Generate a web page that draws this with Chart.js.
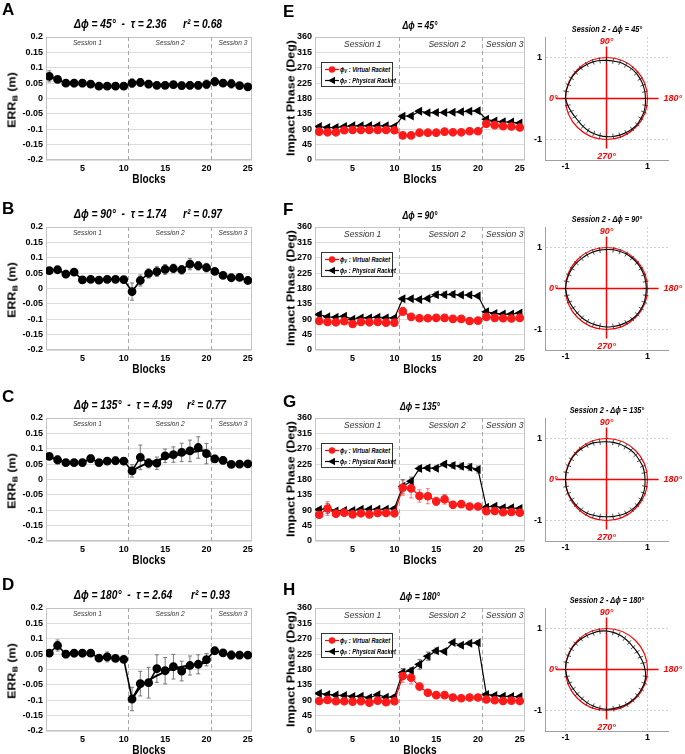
<!DOCTYPE html>
<html><head><meta charset="utf-8">
<script src="https://cdn.jsdelivr.net/npm/chart.js@4.4.1/dist/chart.umd.min.js"></script>
<style>
html,body{margin:0;padding:0;background:#fff;}
body{width:685px;height:754px;position:relative;overflow:hidden;font-family:"Liberation Sans",Arial,sans-serif;}
canvas{position:absolute;}
.t{position:absolute;white-space:pre;color:#000;line-height:1;}
.bi{font-weight:bold;font-style:italic;}
.b{font-weight:bold;}
.rot{transform:translate(-50%,-50%) rotate(-90deg) scaleY(0.9);}
.leg{position:absolute;border:1px solid #333;background:#fff;box-sizing:border-box;}
.leg svg{position:absolute;}
.leg .lt{position:absolute;white-space:pre;font-weight:bold;font-style:italic;font-size:7px;line-height:1;transform-origin:0 50%;transform:scaleX(0.82);}
sub{font-size:70%;vertical-align:-0.25em;line-height:0;}
</style></head><body>
<script>
// ---------------- DATA ----------------
const blocks = [1,2,3,4,5,6,7,8,9,10,11,12,13,14,15,16,17,18,19,20,21,22,23,24,25];
const fitBlocks = [11,12,13,14,15,16,17,18,19,20];
const xTickValues = [5,10,15,20,25];
const sessionBounds = [10.5,20.5];
const sessionNames = ['Session 1','Session 2','Session 3'];
const errYTicks = [-0.2,-0.15,-0.1,-0.05,0,0.05,0.1,0.15,0.2];
const errYLabels = ['-0.2','-0.15','-0.1','-0.05','0','0.05','0.1','0.15','0.2'];
const phaseYTicks = [0,45,90,135,180,225,270,315,360];
const polarTicks = [-1,1];

// Panel A (delta phi = 45)
const errA   = [0.072,0.062,0.05,0.05,0.05,0.047,0.04,0.04,0.04,0.04,0.05,0.052,0.047,0.043,0.043,0.045,0.042,0.043,0.043,0.046,0.055,0.05,0.048,0.042,0.038];
const errAsd = [0.018,0.01,0.01,0.012,0.012,0.008,0.008,0.008,0.01,0.008,0.014,0.012,0.012,0.01,0.01,0.01,0.012,0.012,0.012,0.014,0.014,0.01,0.014,0.01,0.008];
// Panel B (90)
const errB   = [0.058,0.061,0.047,0.053,0.028,0.03,0.027,0.03,0.03,0.029,-0.01,0.026,0.049,0.055,0.062,0.065,0.061,0.079,0.074,0.068,0.056,0.043,0.035,0.036,0.026];
const errBsd = [0.01,0.01,0.012,0.01,0.008,0.006,0.006,0.006,0.006,0.006,0.028,0.018,0.015,0.016,0.016,0.014,0.014,0.018,0.014,0.014,0.006,0.006,0.006,0.006,0.006];
// Panel C (135)
const errC   = [0.075,0.064,0.055,0.055,0.055,0.068,0.055,0.06,0.061,0.06,0.028,0.072,0.053,0.053,0.077,0.081,0.088,0.093,0.104,0.084,0.067,0.062,0.049,0.05,0.051];
const errCsd = [0.006,0.014,0.008,0.01,0.01,0.012,0.01,0.01,0.012,0.01,0.02,0.04,0.015,0.02,0.022,0.025,0.03,0.035,0.035,0.033,0.012,0.012,0.01,0.01,0.01];
const fitC   = [0.028,0.043,0.054,0.062,0.07,0.077,0.083,0.088,0.092,0.095];
// Panel D (180)
const errD   = [0.053,0.078,0.05,0.053,0.053,0.053,0.037,0.041,0.036,0.033,-0.096,-0.046,-0.043,0.003,-0.004,0.009,-0.005,0.013,0.017,0.032,0.061,0.054,0.047,0.047,0.047];
const errDsd = [0.008,0.018,0.012,0.012,0.012,0.01,0.008,0.016,0.008,0.008,0.038,0.04,0.05,0.045,0.043,0.04,0.032,0.031,0.031,0.02,0.01,0.008,0.014,0.012,0.008];
const fitD   = [-0.096,-0.058,-0.036,-0.02,-0.008,0.002,0.009,0.014,0.018,0.022];

// Panel E (45) impact phase
const phEv   = [83,81,81,87,88,88,88,88,88,87,72,72,80,80,80,83,81,81,84,84,106,102,99,98,95];
const phEvsd = [4,4,4,4,4,4,4,4,4,4,5,5,4,4,4,4,4,4,4,4,5,4,4,4,4];
const phEp   = [98,95,95,98,100,100,100,100,100,98,128,129,143,138,139,139,140,141,143,144,119,114,112,111,108];
const phEpsd = [4,4,4,4,4,4,4,4,4,4,5,5,5,4,4,4,4,4,4,4,5,4,4,4,4];
// Panel F (90)
const phFv   = [85,82,81,84,76,82,81,82,80,80,113,97,93,93,94,94,91,91,85,86,97,94,93,92,94];
const phFvsd = [4,4,4,4,4,4,4,4,4,4,12,6,5,5,5,5,5,5,4,4,4,4,4,4,4];
const phFp   = [104,97,96,99,90,94,94,96,94,94,150,150,148,151,162,162,163,161,161,158,112,107,105,105,108];
const phFpsd = [5,4,4,4,4,4,4,4,4,4,6,5,5,6,8,8,8,6,6,5,5,4,4,4,4];
// Panel G (135)
const phGv   = [77,95,80,83,78,81,78,82,82,81,156,154,132,131,116,122,106,108,101,101,87,88,84,85,83];
const phGvsd = [5,20,4,4,4,4,4,4,4,4,22,28,18,22,12,14,10,6,5,5,4,4,4,4,4];
const phGp   = [92,95,88,89,89,93,93,93,93,95,160,175,212,214,213,225,221,219,216,209,99,102,97,97,95];
const phGpsd = [5,15,5,5,5,5,5,5,5,5,20,12,8,7,7,6,8,9,10,10,5,5,5,5,5];
// Panel H (180)
const phHv   = [88,91,87,87,86,87,83,89,84,87,161,156,130,112,105,105,98,96,98,98,92,90,88,89,88];
const phHvsd = [4,4,4,4,4,4,4,4,4,4,18,18,10,6,5,5,4,4,4,4,4,4,4,4,4];
const phHp   = [110,107,105,104,101,102,97,106,99,100,171,177,195,219,235,233,259,251,257,258,107,104,102,101,100];
const phHpsd = [5,5,5,5,5,5,5,5,5,5,12,8,14,12,8,6,6,6,6,6,5,5,5,5,5];

// Polar panels: radius of physical-racket phase curve at each angle (0 left, 90 top, 180 right, 270 bottom)
const polarAngles = [0,10,20,30,40,50,60,70,80,90,100,110,120,130,140,150,160,170,180,190,200,210,220,230,240,250,260,270,280,290,300,310,320,330,340,350];
const polE = [1.0,1.0,0.99,0.99,0.98,0.97,0.96,0.95,0.94,0.93,0.93,0.94,0.94,0.95,0.95,0.95,0.95,0.95,0.95,0.96,0.97,0.97,0.98,0.97,0.96,0.95,0.94,0.93,0.92,0.91,0.9,0.89,0.88,0.89,0.92,0.96];
const polF = [1.0,0.99,0.98,0.97,0.96,0.95,0.95,0.95,0.95,0.95,0.96,0.96,0.97,0.97,0.97,0.97,0.97,0.97,0.97,0.97,0.98,0.98,0.98,0.97,0.96,0.95,0.94,0.94,0.93,0.93,0.93,0.93,0.93,0.94,0.96,0.98];
const polG = [1.0,1.0,0.99,0.99,0.98,0.97,0.96,0.95,0.93,0.92,0.92,0.92,0.92,0.93,0.93,0.93,0.94,0.94,0.94,0.95,0.96,0.97,0.97,0.96,0.95,0.93,0.92,0.91,0.92,0.93,0.95,0.96,0.97,0.98,0.99,1.0];
const polH = [1.0,1.0,0.99,0.99,0.98,0.97,0.96,0.95,0.95,0.94,0.92,0.9,0.88,0.86,0.85,0.86,0.88,0.91,0.94,0.97,0.98,0.98,0.98,0.98,0.98,0.97,0.97,0.97,0.96,0.95,0.94,0.93,0.93,0.94,0.96,0.98];
const polarErr = 0.07;

// ---------------- LAYOUT / STYLE ----------------
const rowTops = [37,227,418,608];
const REG = '"Liberation Sans",Arial,sans-serif';
const tickFont = {family: REG, size: 9, weight: 'bold'};

function makeCanvas(left, top, w, h){
  const c = document.createElement('canvas');
  c.width = w; c.height = h;
  c.style.left = left+'px'; c.style.top = top+'px';
  c.style.width = w+'px'; c.style.height = h+'px';
  document.body.appendChild(c);
  return c;
}
// anchor: 'c' centre, 'l' left-middle; sx: horizontal squeeze
function txt(html, x, y, cls, size, anchor, sx){
  const d = document.createElement('div');
  d.className = 't ' + cls;
  d.innerHTML = html;
  d.style.left = x+'px'; d.style.top = y+'px'; d.style.fontSize = size+'px';
  if (anchor === 'c') { d.style.transform = 'translate(-50%,-50%) scaleX(' + sx + ')'; }
  else if (anchor === 'l') { d.style.transformOrigin = '0 50%'; d.style.transform = 'translate(0,-50%) scaleX(' + sx + ')'; }
  document.body.appendChild(d);
  return d;
}

// ---------------- PLUGINS ----------------
const frame = {
  id:'frame',
  beforeDatasetsDraw(chart, args, opts){
    if (!opts.color) return;
    const {ctx, chartArea:a} = chart;
    ctx.save(); ctx.strokeStyle = opts.color; ctx.lineWidth = 1;
    ctx.strokeRect(Math.round(a.left)+0.5, Math.round(a.top)+0.5, Math.round(a.width)-1, Math.round(a.height)-1);
    ctx.restore();
  }
};
const sessions = {
  id:'sessions',
  beforeDatasetsDraw(chart, args, opts){
    if (!opts.labelPos) return;
    const {ctx, chartArea:a, scales:{x}} = chart;
    ctx.save();
    ctx.strokeStyle = '#a8a8a8'; ctx.lineWidth = 1; ctx.setLineDash([4,3]);
    sessionBounds.forEach(b => {
      const px = Math.round(x.getPixelForValue(b)) + 0.5;
      ctx.beginPath(); ctx.moveTo(px, a.top); ctx.lineTo(px, a.bottom); ctx.stroke();
    });
    ctx.setLineDash([]);
    ctx.fillStyle = '#333'; ctx.font = opts.font; ctx.textAlign = 'center'; ctx.textBaseline = 'middle';
    opts.labelPos.forEach((p,i) => ctx.fillText(sessionNames[i], x.getPixelForValue(p), a.top + opts.dy));
    ctx.restore();
  }
};
const errorBars = {
  id:'errorBars',
  beforeDatasetsDraw(chart){
    const {ctx, scales:{x,y}} = chart;
    chart.data.datasets.forEach(ds => {
      if (!ds.errors) return;
      ctx.save(); ctx.strokeStyle = ds.errorColor; ctx.lineWidth = 1;
      ds.data.forEach((p,j) => {
        const e = ds.errors[j]; if (!e) return;
        const px = x.getPixelForValue(p.x);
        const y1 = y.getPixelForValue(p.y + e), y2 = y.getPixelForValue(p.y - e);
        ctx.beginPath();
        ctx.moveTo(px, y1); ctx.lineTo(px, y2);
        ctx.moveTo(px-2, y1); ctx.lineTo(px+2, y1);
        ctx.moveTo(px-2, y2); ctx.lineTo(px+2, y2);
        ctx.stroke();
      });
      ctx.restore();
    });
  }
};
const polarDecor = {
  id:'polarDecor',
  beforeDatasetsDraw(chart, args, opts){
    if (!opts.on) return;
    const {ctx, scales:{x,y}} = chart;
    const cx = x.getPixelForValue(0), cy = y.getPixelForValue(0);
    const rx = x.getPixelForValue(1) - cx, ry = cy - y.getPixelForValue(1);
    ctx.save();
    ctx.strokeStyle = '#ff0000'; ctx.lineWidth = 1.2;
    ctx.beginPath(); ctx.ellipse(cx, cy, rx, ry, 0, 0, Math.PI*2); ctx.stroke();
    ctx.lineWidth = 1.5;
    ctx.beginPath();
    ctx.moveTo(x.getPixelForValue(-1.24), cy); ctx.lineTo(x.getPixelForValue(1.27), cy);
    ctx.moveTo(cx, y.getPixelForValue(1.27)); ctx.lineTo(cx, y.getPixelForValue(-1.22));
    ctx.stroke();
    ctx.restore();
  },
  afterDatasetsDraw(chart, args, opts){
    if (!opts.on) return;
    const {ctx, scales:{x,y}} = chart;
    chart.data.datasets.forEach(ds => {
      if (!ds.radii) return;
      ctx.save(); ctx.strokeStyle = '#222'; ctx.lineWidth = 0.8;
      ds.angles.forEach((a,i) => {
        const t = a*Math.PI/180, r = ds.radii[i];
        const x1 = -(r-polarErr)*Math.cos(t), y1 = (r-polarErr)*Math.sin(t);
        const x2 = -(r+polarErr)*Math.cos(t), y2 = (r+polarErr)*Math.sin(t);
        ctx.beginPath();
        ctx.moveTo(x.getPixelForValue(x1), y.getPixelForValue(y1));
        ctx.lineTo(x.getPixelForValue(x2), y.getPixelForValue(y2));
        ctx.stroke();
      });
      ctx.restore();
    });
  },
  afterDraw(chart, args, opts){
    if (!opts.on) return;
    const {ctx, scales:{x,y}} = chart;
    const cx = x.getPixelForValue(0), cy = y.getPixelForValue(0);
    ctx.save();
    ctx.fillStyle = '#ff0000';
    ctx.font = 'italic bold 9px ' + REG;
    ctx.textBaseline = 'middle';
    ctx.textAlign = 'center';
    ctx.fillText('90°', cx, y.getPixelForValue(1.27) - 5);
    ctx.fillText('270°', cx, y.getPixelForValue(-1.22) + 8);
    ctx.textAlign = 'right';
    ctx.fillText('0°', x.getPixelForValue(-1.24) + 2, cy);
    ctx.textAlign = 'left';
    ctx.fillText('180°', x.getPixelForValue(1.27) + 5, cy);
    ctx.restore();
  }
};
const allPlugins = [frame, sessions, errorBars, polarDecor];

function fixedTicks(values){ return s => { s.ticks = values.map(v => ({value:v})); }; }

// ---------------- CHART BUILDERS ----------------
function errChart(rowTop, vals, sds, fit){
  const canvas = makeCanvas(0, rowTop-37, 260, 190);
  const datasets = [];
  if (fit) datasets.push({data: fitBlocks.map((b,i)=>({x:b,y:fit[i]})), borderColor:'#000', borderWidth:2, pointRadius:0, tension:0.4, fill:false});
  datasets.push({data: blocks.map((b,i)=>({x:b,y:vals[i]})), errors:sds, errorColor:'#777',
    borderColor:'#000', borderWidth:1.6, pointRadius:3.6, pointBackgroundColor:'#000', pointBorderColor:'#000', tension:0, fill:false});
  new Chart(canvas, {
    type:'line', data:{datasets}, plugins: allPlugins,
    options:{
      responsive:false, animation:false, events:[],
      layout:{padding:{top:37,right:8,left:0,bottom:0}},
      plugins:{legend:{display:false}, tooltip:{enabled:false},
        frame:{color:'#c4c4c4'},
        sessions:{labelPos:[5.6,15.6,23.2], dy:6, font:'italic 6.6px ' + REG},
        polarDecor:{on:false}},
      scales:{
        x:{type:'linear', min:0.6, max:25.5, afterFit:s=>{s.height=30;}, afterBuildTicks:fixedTicks(xTickValues),
           grid:{display:false, drawTicks:false}, border:{display:false},
           ticks:{font:tickFont, color:'#000', padding:3, autoSkip:false, maxRotation:0, callback:v=>String(v)}},
        y:{type:'linear', min:-0.2, max:0.2, afterFit:s=>{s.width=46;}, afterBuildTicks:fixedTicks(errYTicks),
           grid:{color:'#dcdcdc', drawTicks:false}, border:{display:false},
           ticks:{font:tickFont, color:'#000', padding:3, autoSkip:false, callback:(v,i)=>errYLabels[i]}}
      }
    }
  });
}

function phaseChart(rowTop, v, vsd, p, psd){
  const canvas = makeCanvas(260, rowTop-37, 270, 190);
  const datasets = [
    {data: blocks.map((b,i)=>({x:b,y:v[i]})), errors:vsd, errorColor:'rgba(255,70,70,0.75)',
     borderColor:'#ff0000', borderWidth:1.2, pointRadius:3.7, pointBackgroundColor:'#ff1a1a', pointBorderColor:'#ff1a1a', tension:0, fill:false},
    {data: blocks.map((b,i)=>({x:b,y:p[i]})), errors:psd, errorColor:'#777',
     borderColor:'#000', borderWidth:1.2, pointRadius:4, pointStyle:'triangle', pointRotation:-90, pointBackgroundColor:'#000', pointBorderColor:'#000', tension:0, fill:false}
  ];
  new Chart(canvas, {
    type:'line', data:{datasets}, plugins: allPlugins,
    options:{
      responsive:false, animation:false, events:[],
      layout:{padding:{top:37,right:5,left:0,bottom:0}},
      plugins:{legend:{display:false}, tooltip:{enabled:false},
        frame:{color:'#c4c4c4'},
        sessions:{labelPos:[6.2,16.3,23.2], dy:8, font:'italic 8.5px ' + REG},
        polarDecor:{on:false}},
      scales:{
        x:{type:'linear', min:0.5, max:25.6, afterFit:s=>{s.height=30;}, afterBuildTicks:fixedTicks(xTickValues),
           grid:{display:false, drawTicks:false}, border:{display:false},
           ticks:{font:tickFont, color:'#000', padding:3, autoSkip:false, maxRotation:0, callback:v=>String(v)}},
        y:{type:'linear', min:0, max:360, afterFit:s=>{s.width=55;}, afterBuildTicks:fixedTicks(phaseYTicks),
           grid:{color:'#dcdcdc', drawTicks:false}, border:{display:false},
           ticks:{font:tickFont, color:'#000', padding:3, autoSkip:false, callback:v=>String(v)}}
      }
    }
  });
}

function polarChart(rowTop, radii){
  const canvas = makeCanvas(530, rowTop-37, 155, 190);
  const pts = polarAngles.map((a,i)=>({x:-radii[i]*Math.cos(a*Math.PI/180), y:radii[i]*Math.sin(a*Math.PI/180)}));
  const loop = pts.concat([pts[0]]);
  new Chart(canvas, {
    type:'scatter', plugins: allPlugins,
    data:{datasets:[{data:loop, radii:radii, angles:polarAngles, showLine:true, borderColor:'#000', borderWidth:1.1, pointRadius:0, tension:0.3, fill:false}]},
    options:{
      responsive:false, animation:false, events:[],
      layout:{padding:{top:37,right:17,left:0,bottom:0}},
      plugins:{legend:{display:false}, tooltip:{enabled:false}, frame:{color:null}, sessions:{labelPos:null}, polarDecor:{on:true}},
      scales:{
        x:{type:'linear', min:-1.5, max:1.5, afterFit:s=>{s.height=30;}, afterBuildTicks:fixedTicks(polarTicks),
           grid:{color:'#d0d0d0', drawTicks:false}, border:{display:true, color:'#a0a0a0', dash:[2,2]},
           ticks:{font:{family:REG,size:9,weight:'bold'}, color:'#000', padding:1, autoSkip:false, maxRotation:0, callback:v=>String(v)}},
        y:{type:'linear', min:-1.5, max:1.5, afterFit:s=>{s.width=15;}, afterBuildTicks:fixedTicks(polarTicks),
           grid:{color:'#d0d0d0', drawTicks:false}, border:{display:true, color:'#a0a0a0', dash:[2,2]},
           ticks:{font:{family:REG,size:9,weight:'bold'}, color:'#000', padding:3, autoSkip:false, callback:v=>String(v)}}
      }
    }
  });
}

function legendBox(rowTop){
  const box = document.createElement('div');
  box.className = 'leg';
  box.style.left = '321px'; box.style.top = (rowTop+25)+'px';
  box.style.width = '72px'; box.style.height = '25px';
  box.innerHTML =
    '<svg width="16" height="9" style="left:2px;top:2px"><line x1="1" y1="4.5" x2="15" y2="4.5" stroke="#ff0000" stroke-width="1.2"/><circle cx="8" cy="4.5" r="3.2" fill="#ff1a1a"/></svg>' +
    '<div class="lt" style="left:18px;top:3px">ϕ<sub>V</sub> : Virtual Racket</div>' +
    '<svg width="16" height="9" style="left:2px;top:13px"><line x1="1" y1="4.5" x2="15" y2="4.5" stroke="#000" stroke-width="1.2"/><polygon points="4,4.5 11,0.8 11,8.2" fill="#000"/></svg>' +
    '<div class="lt" style="left:18px;top:14px">ϕ<sub>P</sub> : Physical Racket</div>';
  document.body.appendChild(box);
}

// ---------------- BUILD ----------------
const errSets = [[errA,errAsd,null],[errB,errBsd,null],[errC,errCsd,fitC],[errD,errDsd,fitD]];
const phSets = [[phEv,phEvsd,phEp,phEpsd],[phFv,phFvsd,phFp,phFpsd],[phGv,phGvsd,phGp,phGpsd],[phHv,phHvsd,phHp,phHpsd]];
const polSets = [polE,polF,polG,polH];
const dphi = ['45','90','135','180'];
const taus = ['2.36','1.74','4.99','2.64'];
const r2s = ['0.68','0.97','0.77','0.93'];
const r2x = [183,183,187,191];
const leftLetters = ['A','B','C','D'];
const midLetters = ['E','F','G','H'];
const leftLetterTops = [0.6,199.6,387.6,575.6];
const midLetterTops = [2.6,200.6,392.6,580.6];

rowTops.forEach((rt,i) => {
  errChart(rt, errSets[i][0], errSets[i][1], errSets[i][2]);
  phaseChart(rt, phSets[i][0], phSets[i][1], phSets[i][2], phSets[i][3]);
  polarChart(rt, polSets[i]);
  legendBox(rt);

  txt(leftLetters[i], 2, leftLetterTops[i], 'b', 17);
  txt(midLetters[i], 283, midLetterTops[i], 'b', 17);

  txt('Δϕ = ' + dphi[i] + '°  -  τ = ' + taus[i], 74, rt-13, 'bi', 12.5, 'l', 0.82);
  txt('r² = ' + r2s[i], r2x[i], rt-13, 'bi', 12.5, 'l', 0.82);
  txt('Δϕ = ' + dphi[i] + '°', 420, rt-12.5, 'bi', 11, 'c', 0.78);
  txt('Session 2 - Δϕ = ' + dphi[i] + '°', 607, rt-8, 'bi', 8.5, 'c', 0.86);

  txt('ERR<sub>B</sub> (m)', 12, rt+63, 'b rot', 12.5);
  txt('Impact Phase (Deg)', 291, rt+61, 'b rot', 12.5);
  txt('Blocks', 149, rt+141, 'b', 13, 'c', 0.78);
  txt('Blocks', 420, rt+141, 'b', 13, 'c', 0.78);
});
</script>
</body></html>
